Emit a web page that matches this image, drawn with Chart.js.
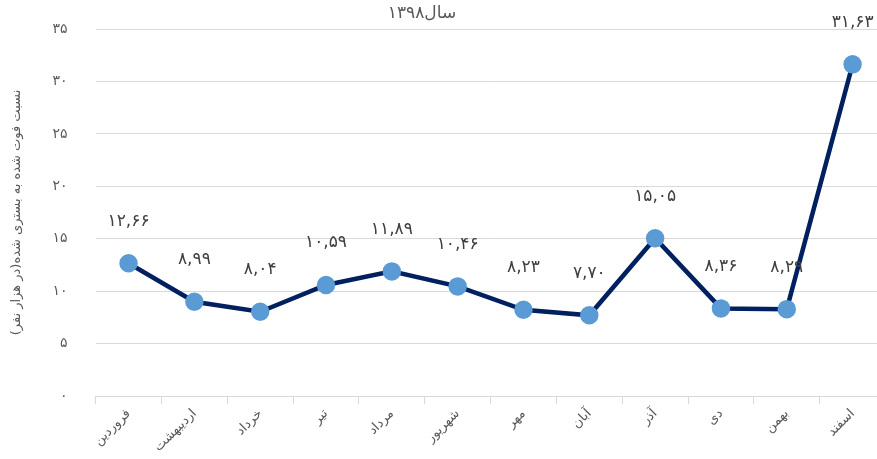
<!DOCTYPE html>
<html>
<head>
<meta charset="utf-8">
<script src="https://cdn.jsdelivr.net/npm/chart.js@4"></script>
<style>
  html, body { margin: 0; padding: 0; background: #fff; overflow: hidden; }
  #wrap { width: 897px; height: 459px; position: relative; }
</style>
</head>
<body>
<div id="wrap"><canvas id="lineChart"></canvas></div>
<script>
const months = ['فروردین', 'اردیبهشت', 'خرداد', 'تیر', 'مرداد', 'شهریور', 'مهر', 'آبان', 'آذر', 'دی', 'بهمن', 'اسفند'];
const ratios = [12.66, 8.99, 8.04, 10.59, 11.89, 10.46, 8.23, 7.70, 15.05, 8.36, 8.29, 31.63];
const yTicks = [0, 5, 10, 15, 20, 25, 30, 35];
const chartTitle = 'سال۱۳۹۸';
const yTitle = 'نسبت فوت شده به بستری شده(در هزار نفر)';

const FONT = 'DejaVu Sans';

let toFa = (s) => String(s).replace(/[0-9]/g, d => '۰۱۲۳۴۵۶۷۸۹'[d]);

// value labels above each point + the title at the top
const pointLabels = {
    id: 'pointLabels',
    afterDatasetsDraw(chart) {
        const ctx = chart.ctx;
        const meta = chart.getDatasetMeta(0);
        ctx.save();
        ctx.font = '17px "' + FONT + '"';
        ctx.fillStyle = '#404040';
        ctx.textAlign = 'center';
        ctx.textBaseline = 'middle';
        meta.data.forEach((pt, i) => {
            const txt = toFa(ratios[i].toFixed(2).replace('.', ','));
            ctx.fillText(txt, pt.x, pt.y - 42);
        });
        ctx.fillStyle = '#595959';
        ctx.fillText(chartTitle, 422, 14);
        ctx.restore();
    }
};

let StartFunc = () => {
    const ctx = document.getElementById('lineChart');

    new Chart(ctx, {
        type: 'line',
        data: {
            labels: months,
            datasets: [{
                label: chartTitle,
                data: ratios,
                borderColor: '#002060',
                borderWidth: 4.5,
                pointBackgroundColor: '#5b9bd5',
                pointBorderColor: '#5b9bd5',
                pointRadius: 7,
                pointHoverRadius: 7,
                tension: 0
            }]
        },
        options: {
            responsive: true,
            maintainAspectRatio: false,
            animation: false,
            layout: { padding: { top: 29, right: 6, bottom: 2, left: 9 } },
            plugins: {
                legend: { display: false },
                tooltip: { enabled: false },
                title: { display: false }
            },
            scales: {
                x: {
                    offset: true,
                    grid: {
                        offset: true,
                        drawOnChartArea: false,
                        drawTicks: true,
                        tickLength: 8,
                        color: '#d9d9d9'
                    },
                    border: { color: '#d9d9d9' },
                    ticks: {
                        color: '#595959',
                        font: { family: FONT, size: 13 },
                        padding: 2,
                        maxRotation: 45,
                        minRotation: 45,
                        autoSkip: false
                    }
                },
                y: {
                    min: 0,
                    max: 35,
                    afterBuildTicks: (axis) => { axis.ticks = yTicks.map(v => ({ value: v })); },
                    grid: {
                        color: '#d9d9d9',
                        drawTicks: true,
                        tickLength: 24,
                        tickColor: 'rgba(0,0,0,0)',
                        lineWidth: 1
                    },
                    border: { display: false },
                    ticks: {
                        color: '#595959',
                        font: { family: FONT, size: 14 },
                        padding: 4,
                        callback: (v) => toFa(v)
                    },
                    title: {
                        display: true,
                        text: yTitle,
                        color: '#595959',
                        font: { family: FONT, size: 13 },
                        padding: { top: 0, bottom: 24 }
                    }
                }
            }
        },
        plugins: [pointLabels]
    });
};

StartFunc();
</script>
</body>
</html>
